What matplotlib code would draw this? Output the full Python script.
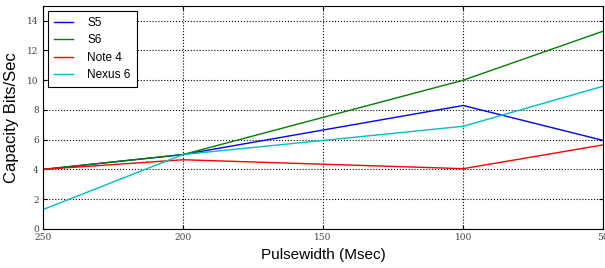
import matplotlib
matplotlib.use('Agg')
import matplotlib.pyplot as plt

# pulse width values and measured capacity
pulsewidth = [250, 200, 100, 50]
s5 = [4.0, 5.0, 8.3, 5.95]
s6 = [4.0, 5.0, 10.0, 13.3]
note4 = [4.0, 4.65, 4.05, 5.65]
nexus6 = [1.3, 5.0, 6.9, 9.6]
xticks = [250, 200, 150, 100, 50]
yticks = [0, 2, 4, 6, 8, 10, 12, 14]

fig = plt.figure(figsize=(6.05, 2.68), dpi=100)
ax = fig.add_axes([0.071, 0.146, 0.926, 0.832])

ax.plot(pulsewidth, s5, color='b', lw=1, label='S5')
ax.plot(pulsewidth, s6, color='g', lw=1, label='S6')
ax.plot(pulsewidth, note4, color='r', lw=1, label='Note 4')
ax.plot(pulsewidth, nexus6, color='c', lw=1, label='Nexus 6')

ax.set_xlim(250, 50)
ax.set_ylim(0, 15)
ax.set_xticks(xticks)
ax.set_yticks(yticks)
ax.set_xticklabels([str(v) for v in xticks], family='DejaVu Serif', fontsize=6.5, color='#444444')
ax.set_yticklabels([str(v) for v in yticks], family='DejaVu Serif', fontsize=6.5, color='#444444')
ax.tick_params(direction='in', top=True, right=True, length=3, pad=3)
ax.grid(True, linestyle=':', color='black', lw=0.8)

ax.set_xlabel('Pulsewidth (Msec)', family='Liberation Sans', fontsize=11, labelpad=4)
ax.set_ylabel('Capacity Bits/Sec', family='Liberation Sans', fontsize=12, labelpad=6)

leg = ax.legend(loc='upper left', prop={'family': 'Liberation Sans', 'size': 8.5},
                fancybox=False, edgecolor='black', framealpha=1, borderaxespad=0.45,
                handlelength=1.6, handletextpad=1.2, labelspacing=0.45, borderpad=0.5)
leg.get_frame().set_linewidth(0.8)

fig.savefig('out.png', dpi=100)
